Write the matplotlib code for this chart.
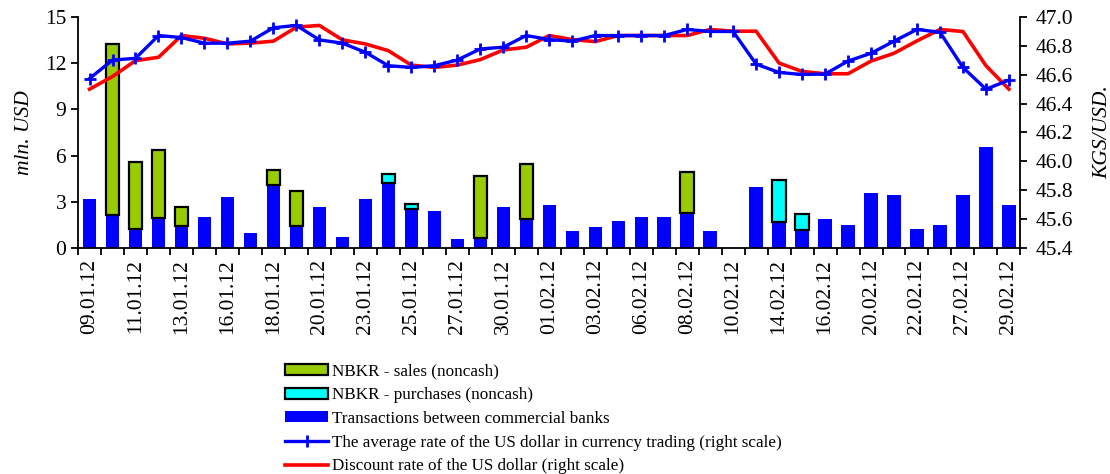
import numpy as np
import matplotlib
matplotlib.use("Agg")
import matplotlib.pyplot as plt
from matplotlib.patches import Patch
from matplotlib.lines import Line2D

plt.rcParams['font.family'] = ['Liberation Serif', 'DejaVu Serif']

# shown date labels (every other trading day)
tick_labels = ["09.01.12", "11.01.12", "13.01.12", "16.01.12", "18.01.12", "20.01.12",
               "23.01.12", "25.01.12", "27.01.12", "30.01.12", "01.02.12", "03.02.12",
               "06.02.12", "08.02.12", "10.02.12", "14.02.12", "16.02.12", "20.02.12",
               "22.02.12", "27.02.12", "29.02.12"]

# mln USD
interbank = [3.17, 2.17, 1.26, 1.95, 1.41, 2.0, 3.3, 0.95, 4.08, 1.41,
             2.65, 0.69, 3.17, 4.19, 2.56, 2.39, 0.56, 0.63, 2.65, 1.91,
             2.78, 1.09, 1.35, 1.74, 2.0, 2.0, 2.3, 1.09, 0.0, 3.95,
             1.69, 1.15, 1.87, 1.48, 3.56, 3.43, 1.22, 1.48, 3.43, 6.56, 2.78]
nbkr_sales = [0, 11.09, 4.3, 4.39, 1.28, 0, 0, 0, 0.96, 2.32,
              0, 0, 0, 0, 0, 0, 0, 4.06, 0, 3.56,
              0, 0, 0, 0, 0, 0, 2.65, 0, 0, 0,
              0, 0, 0, 0, 0, 0, 0, 0, 0, 0, 0]
nbkr_purchases = [0, 0, 0, 0, 0, 0, 0, 0, 0, 0,
                  0, 0, 0, 0.61, 0.31, 0, 0, 0, 0, 0,
                  0, 0, 0, 0, 0, 0, 0, 0, 0, 0,
                  2.72, 1.06, 0, 0, 0, 0, 0, 0, 0, 0, 0]

# KGS/USD
avg_rate = [46.574, 46.702, 46.714, 46.872, 46.858, 46.819, 46.819, 46.833, 46.926, 46.942,
            46.842, 46.819, 46.756, 46.663, 46.651, 46.663, 46.702, 46.779, 46.791, 46.872,
            46.844, 46.833, 46.872, 46.872, 46.872, 46.872, 46.914, 46.900, 46.900, 46.674,
            46.616, 46.602, 46.605, 46.695, 46.749, 46.833, 46.914, 46.895, 46.651, 46.500, 46.563]
discount_rate = [46.500, 46.588, 46.698, 46.721, 46.872, 46.853, 46.814, 46.819, 46.833, 46.930,
                 46.942, 46.842, 46.814, 46.767, 46.667, 46.651, 46.667, 46.705, 46.772, 46.791,
                 46.872, 46.844, 46.830, 46.872, 46.872, 46.872, 46.872, 46.914, 46.902, 46.902,
                 46.681, 46.623, 46.607, 46.607, 46.695, 46.749, 46.835, 46.914, 46.900, 46.663, 46.500]

n = len(interbank)
x = np.arange(n)
inter = np.array(interbank)
sales = np.array(nbkr_sales)
purch = np.array(nbkr_purchases)

fig = plt.figure(figsize=(11.1, 4.74), dpi=100)
ax = fig.add_axes([0.0703, 0.477, 0.849, 0.487])

w = 0.58
ax.bar(x, inter, w, color='#0000ff', zorder=2)
m = sales > 0
ax.bar(x[m], sales[m], w, bottom=inter[m], color='#99cc00', edgecolor='black', linewidth=1.6, zorder=3)
m = purch > 0
ax.bar(x[m], purch[m], w, bottom=inter[m] + sales[m], color='#00ffff', edgecolor='black', linewidth=1.6, zorder=3)

ax.set_xlim(-0.5, n - 0.5)
ax.set_ylim(0, 15)
ax.set_yticks(np.arange(0, 16, 3))
ax.set_xticks(x[::2])
ax.set_xticklabels(tick_labels, rotation=90, fontsize=15.5)
ax.set_xticks(np.arange(-0.5, n, 1), minor=True)
ax.tick_params(axis='x', which='major', length=0, pad=8)
ax.tick_params(axis='x', which='minor', length=5, width=1.3, direction='out')
ax.tick_params(axis='y', length=5, width=1.3, direction='out', labelsize=15.5)
ax.spines['top'].set_visible(False)
ax.spines['right'].set_visible(False)
for s in ('left', 'bottom'):
    ax.spines[s].set_linewidth(1.3)
ax.set_ylabel('mln. USD', fontsize=15.5, fontstyle='italic', labelpad=8)

ax2 = ax.twinx()
ax2.plot(x, discount_rate, color='#ff0000', lw=2.6, zorder=4)
ax2.plot(x, avg_rate, color='#0000ff', lw=2.4, marker='+', ms=9, mew=2, zorder=5)
ax2.set_ylim(45.4, 47.0)
ax2.set_yticks(np.arange(45.4, 47.01, 0.2))
ax2.set_yticklabels([f"{v:.1f}" for v in np.arange(45.4, 47.01, 0.2)])
ax2.tick_params(axis='y', length=5, width=1.3, direction='out', labelsize=15.5, pad=6)
ax2.spines['top'].set_visible(False)
ax2.spines['left'].set_visible(False)
ax2.spines['bottom'].set_visible(False)
ax2.spines['right'].set_linewidth(1.3)
ax2.set_ylabel('KGS/USD.', fontsize=15.5, fontstyle='italic', labelpad=14)

handles = [
    Patch(facecolor='#99cc00', edgecolor='black', linewidth=1.6),
    Patch(facecolor='#00ffff', edgecolor='black', linewidth=1.6),
    Patch(facecolor='#0000ff', edgecolor='none'),
    Line2D([], [], color='#0000ff', lw=2.4, marker='+', ms=9, mew=2),
    Line2D([], [], color='#ff0000', lw=2.6),
]
labels = ["NBKR - sales (noncash)", "NBKR - purchases (noncash)",
          "Transactions between commercial banks",
          "The average rate of the US dollar in currency trading (right scale)",
          "Discount rate of the US dollar (right scale)"]
fig.legend(handles, labels, loc='upper left', bbox_to_anchor=(0.257, 0.233),
           frameon=False, fontsize=12.3, handlelength=2.5, handleheight=0.6,
           handletextpad=0.25, labelspacing=0.45, borderaxespad=0, borderpad=0)

fig.savefig('out.png', dpi=100)
